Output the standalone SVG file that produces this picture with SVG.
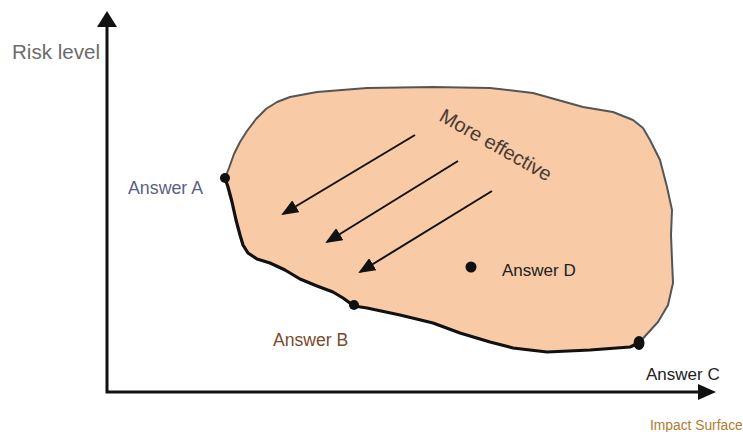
<svg xmlns="http://www.w3.org/2000/svg" width="743" height="432" viewBox="0 0 743 432">
  <style>
    .lbl { font-family: "Liberation Sans", Arial, Helvetica, sans-serif; }
    .axis { stroke: #111; stroke-width: 3; fill: none; }
    .push { stroke: #111; stroke-width: 2; fill: none; marker-end: url(#head); }
    .dot { fill: #111; }
  </style>
  <defs>
    <marker id="head" viewBox="0 0 17 14" refX="15" refY="7" markerWidth="17" markerHeight="14" markerUnits="userSpaceOnUse" orient="auto">
      <path d="M0,0 L17,7 L0,14 z" fill="#111"/>
    </marker>
  </defs>
  <rect width="743" height="432" fill="#ffffff"/>

  <!-- feasible region -->
  <g id="region">
    <path d="M225,178 L229,168 L234,154 L240,142 L247,131 L256,119 L266,109 L277,102 L290,97 L317,92 L367,88 L433,87 L490,88 L533,93 L583,107 L613,112 L633,120 L643,128 L650,140 L660,160 L667,187 L672,210 L671,235 L672,260 L673,283 L668,305 L658,322 L647,334 L639,343 L630,347 L590,350 L547,352 L513,348 L490,342 L460,333 L433,323 L400,315 L367,308 L354,306 L343,298 L333,292 L317,286 L300,279 L285,270 L270,263 L257,259 L248,253 L243,245 L240,235 L236,220 L232,202 L228,187 Z" fill="#f8caa6"/>
    <!-- upper boundary -->
    <path d="M225,178 L229,168 L234,154 L240,142 L247,131 L256,119 L266,109 L277,102 L290,97 L317,92 L367,88 L433,87 L490,88 L533,93 L583,107 L613,112 L633,120 L643,128 L650,140 L660,160 L667,187 L672,210 L671,235 L672,260 L673,283 L668,305 L658,322 L647,334 L639,343" fill="none" stroke="#555" stroke-width="2" stroke-linejoin="round"/>
    <!-- efficient frontier -->
    <path d="M639,343 L630,347 L590,350 L547,352 L513,348 L490,342 L460,333 L433,323 L400,315 L367,308 L354,306 L343,298 L333,292 L317,286 L300,279 L285,270 L270,263 L257,259 L248,253 L243,245 L240,235 L236,220 L232,202 L228,187 L225,178" fill="none" stroke="#111" stroke-width="3.2" stroke-linejoin="round" stroke-linecap="round"/>
  </g>

  <!-- axes -->
  <g id="axes">
    <path class="axis" d="M107,24 L107,392 L699,392"/>
    <polygon points="107,11 97,27 117,27" fill="#111"/>
    <polygon points="716,392 698,384 698,400" fill="#111"/>
  </g>

  <!-- direction arrows -->
  <g id="connectors">
    <line class="push" x1="415" y1="135" x2="283" y2="214"/>
    <line class="push" x1="458" y1="161" x2="327" y2="242"/>
    <line class="push" x1="492" y1="191" x2="360" y2="272"/>
  </g>

  <!-- points -->
  <g id="answer-a"><circle class="dot" cx="225" cy="178" r="5"/><text class="lbl" x="128" y="194" font-size="17.8" fill="#5b5f86">Answer A</text></g>
  <g id="answer-b"><circle class="dot" cx="354" cy="305" r="5"/><text class="lbl" x="273" y="346" font-size="17.6" fill="#7a4a2c">Answer B</text></g>
  <g id="answer-c"><ellipse class="dot" cx="639" cy="343" rx="5.5" ry="7"/><text class="lbl" x="646" y="380" font-size="17" fill="#222">Answer C</text></g>
  <g id="answer-d"><circle class="dot" cx="471" cy="267" r="5.5"/><text class="lbl" x="502" y="276" font-size="17" fill="#222">Answer D</text></g>

  <!-- labels -->
  <g id="risk-label"><text class="lbl" x="12" y="59" font-size="20.6" fill="#6b6b6b">Risk level</text></g>
  <g id="impact-label"><text class="lbl" x="650" y="430" font-size="13.8" fill="#b07b32">Impact Surface</text></g>
  <g id="effective-label"><text class="lbl" font-size="20" fill="#4a3a34" transform="translate(438,120) rotate(29.5)">More effective</text></g>
</svg>
